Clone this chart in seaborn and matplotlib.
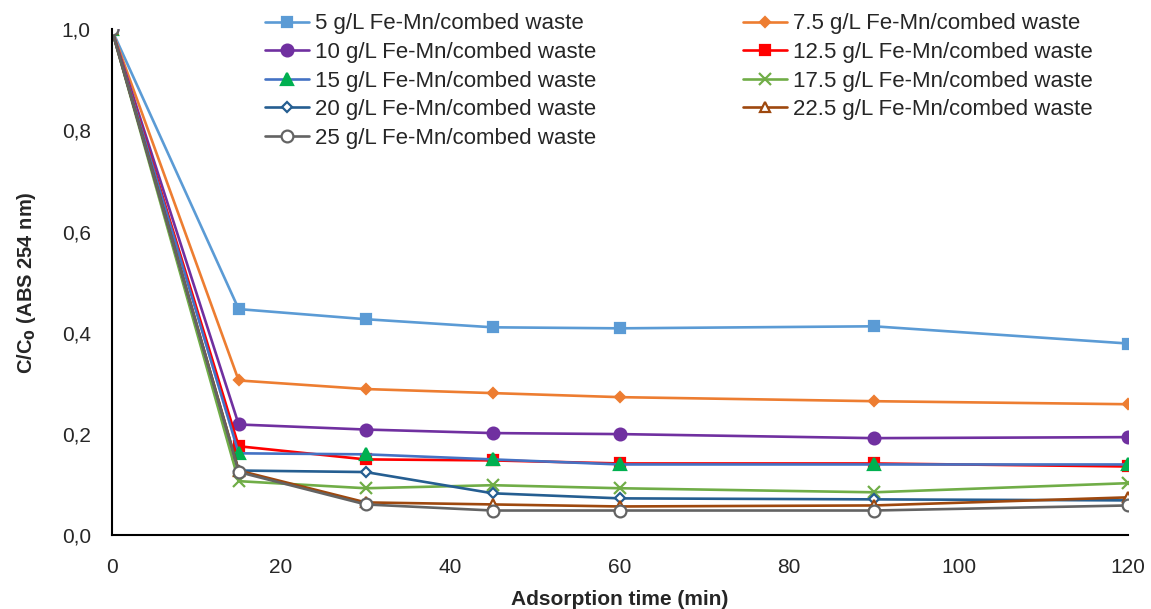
import numpy as np
import pandas as pd
import matplotlib
matplotlib.use("Agg")
import matplotlib.pyplot as plt
import seaborn as sns
from matplotlib.ticker import FuncFormatter

# =========================
# Data
# =========================
time_min = [0, 15, 30, 45, 60, 90, 120]
doses = ["5", "7.5", "10", "12.5", "15", "17.5", "20", "22.5", "25"]

c_5 = [1.0, 0.447, 0.427, 0.411, 0.409, 0.413, 0.379]
c_7_5 = [1.0, 0.306, 0.289, 0.281, 0.273, 0.265, 0.259]
c_10 = [1.0, 0.219, 0.209, 0.202, 0.200, 0.192, 0.194]
c_12_5 = [1.0, 0.176, 0.150, 0.148, 0.142, 0.142, 0.136]
c_15 = [1.0, 0.162, 0.160, 0.150, 0.140, 0.140, 0.140]
c_17_5 = [1.0, 0.107, 0.093, 0.099, 0.093, 0.085, 0.103]
c_20 = [1.0, 0.128, 0.125, 0.083, 0.073, 0.071, 0.069]
c_22_5 = [1.0, 0.128, 0.065, 0.061, 0.057, 0.059, 0.075]
c_25 = [1.0, 0.125, 0.061, 0.049, 0.049, 0.049, 0.059]

series = [c_5, c_7_5, c_10, c_12_5, c_15, c_17_5, c_20, c_22_5, c_25]

# style per series: line colour, marker, marker face, marker edge, marker size
styles = [
    ("#5B9BD5", "s", "#5B9BD5", "#5B9BD5", 7.5),
    ("#ED7D31", "D", "#ED7D31", "#ED7D31", 5.5),
    ("#7030A0", "o", "#7030A0", "#7030A0", 8.5),
    ("#FF0000", "s", "#FF0000", "#FF0000", 7.5),
    ("#4472C4", "^", "#00B050", "#00B050", 8.5),
    ("#70AD47", "x", "#70AD47", "#70AD47", 8.5),
    ("#255E91", "D", "white", "#255E91", 5.5),
    ("#9E480E", "^", "white", "#9E480E", 7.5),
    ("#636363", "o", "white", "#636363", 8.5),
]

sns.set_style("white")
plt.rcParams["font.family"] = ["Liberation Sans", "DejaVu Sans"]

fig = plt.figure(figsize=(11.51, 6.09), dpi=100)
ax = fig.add_axes([0.097, 0.121, 0.883, 0.831])

for dose, vals, (col, mk, mfc, mec, ms) in zip(doses, series, styles):
    df = pd.DataFrame({"t": time_min, "c": vals})
    sns.lineplot(data=df, x="t", y="c", ax=ax, color=col, linewidth=1.9,
                 marker=mk, markersize=ms, markerfacecolor=mfc,
                 markeredgecolor=mec, markeredgewidth=1.6,
                 label=f"{dose} g/L Fe-Mn/combed waste")

ax.set_xlim(0, 120)
ax.set_ylim(0, 1.0)
ax.set_xticks([0, 20, 40, 60, 80, 100, 120])
ax.set_yticks([0, 0.2, 0.4, 0.6, 0.8, 1.0])
ax.yaxis.set_major_formatter(FuncFormatter(lambda v, p: f"{v:.1f}".replace(".", ",")))
ax.tick_params(axis="both", labelsize=15, length=0)
ax.tick_params(axis="x", pad=16)
ax.tick_params(axis="y", pad=15)

for s in ["top", "right"]:
    ax.spines[s].set_visible(False)
for s in ["left", "bottom"]:
    ax.spines[s].set_color("black")
    ax.spines[s].set_linewidth(1.5)

ax.set_xlabel("Adsorption time (min)", fontsize=15, fontweight="bold", va="top")
ax.xaxis.set_label_coords(0.5, -0.108)
ax.set_ylabel("C/C$_\\mathbf{0}$ (ABS 254 nm)", fontsize=14.5, fontweight="bold")
ax.yaxis.set_label_coords(-0.072, 0.5)

# legend: row-major order in two columns
h, l = ax.get_legend_handles_labels()
order = [0, 2, 4, 6, 8, 1, 3, 5, 7]
ax.legend([h[i] for i in order], [l[i] for i in order], ncol=2, frameon=False,
          fontsize=16, loc="upper left", bbox_to_anchor=(0.230, 0.978),
          bbox_transform=fig.transFigure, borderpad=0, borderaxespad=0,
          handlelength=2.0, handletextpad=0.25, columnspacing=6.6,
          labelspacing=0.34)

plt.savefig("out.png", dpi=100)
